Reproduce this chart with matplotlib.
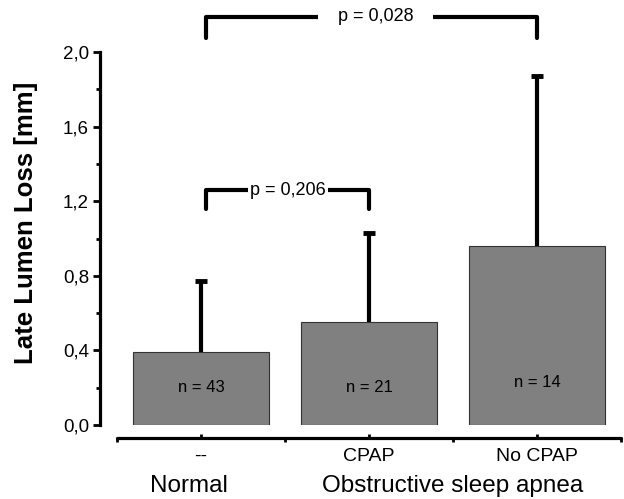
import matplotlib
matplotlib.use("Agg")
import matplotlib.pyplot as plt
import numpy as np
from matplotlib.ticker import FixedLocator, FuncFormatter
from matplotlib.transforms import blended_transform_factory

groups = ["--", "CPAP", "No CPAP"]
means = [0.39, 0.55, 0.96]
sds = [0.38, 0.48, 0.91]
n_labels = ["n = 43", "n = 21", "n = 14"]
n_label_y = [0.20, 0.20, 0.23]
group_titles = ["Normal", "Obstructive sleep apnea"]
comparisons = [(0, 1, "p = 0,206", 1.26, 1.16), (0, 2, "p = 0,028", 2.19, 2.075)]

plt.rcParams['font.family'] = ['Liberation Sans', 'DejaVu Sans']

fig = plt.figure(figsize=(6.24, 4.99), dpi=100)
ax = fig.add_axes([100/624, 74/499, 521/624, 373/499])

x = np.arange(len(groups))
ax.bar(x, means, width=0.81, color="#808080", edgecolor="#333333", linewidth=0.8, zorder=2)
upper = np.array(means) + np.array(sds)
ax.vlines(x, means, upper, color="black", linewidth=3, zorder=3)
ax.plot(x, upper, linestyle="none", marker="_", markersize=9, markeredgewidth=3.5,
        color="black", zorder=3)

for xi, lab, ly in zip(x, n_labels, n_label_y):
    ax.text(xi, ly, lab, ha="center", va="center", fontsize=12)

for a, b, lab, yh, ye in comparisons:
    ax.text((a + b) / 2 + 0.02 * (b - a), yh, lab, ha="center", va="center", fontsize=13,
            bbox=dict(facecolor="white", edgecolor="none", pad=14 if b - a > 1 else 1.5),
            zorder=5, clip_on=False)
    ax.plot([a + 0.03, a + 0.03, b, b], [ye, yh, yh, ye], color="black", linewidth=3,
            solid_capstyle="round", solid_joinstyle="round", clip_on=False, zorder=4)

ax.set_xlim(-0.5 - 17/168, 2.5)
ax.set_ylim(0, 2.0)

for s in ["top", "right"]:
    ax.spines[s].set_visible(False)
ax.spines["left"].set_linewidth(2.3)
ax.spines["left"].set_bounds(0, 2.0)
ax.spines["bottom"].set_linewidth(2.3)
ax.spines["bottom"].set_position(("outward", 9.5))
ax.spines["bottom"].set_bounds(-0.5, 2.5)
ax.spines["bottom"].set_capstyle("round")

ax.yaxis.set_major_locator(FixedLocator([0, 0.4, 0.8, 1.2, 1.6, 2.0]))
ax.yaxis.set_minor_locator(FixedLocator([0.2, 0.6, 1.0, 1.4, 1.8]))
ax.yaxis.set_major_formatter(FuncFormatter(lambda v, p: f"{v:.1f}".replace(".", ",")))
ax.tick_params(axis="y", which="major", direction="out", length=5, width=2, labelsize=13.5, pad=3)
ax.tick_params(axis="y", which="minor", direction="out", length=3, width=2)

ax.xaxis.set_major_locator(FixedLocator([-0.5, 0.5, 1.5, 2.5]))
ax.xaxis.set_minor_locator(FixedLocator(list(x)))
ax.xaxis.set_major_formatter(FuncFormatter(lambda v, p: ""))
ax.xaxis.set_minor_formatter(FuncFormatter(lambda v, p: groups[int(round(v))]))
ax.tick_params(axis="x", which="major", direction="out", length=3, width=2)
ax.tick_params(axis="x", which="minor", direction="in", length=3, width=2, labelsize=14, pad=7)

ax.set_ylabel("Late Lumen Loss [mm]", fontsize=18.5, fontweight="bold")
ax.yaxis.set_label_coords(-62/521, 1 - (223 - 52) / 373)

trans = blended_transform_factory(ax.transData, fig.transFigure)
ax.text(-0.07, 13/499, group_titles[0], transform=trans, ha="center", va="center", fontsize=17.5)
ax.text(1.5, 13/499, group_titles[1], transform=trans, ha="center", va="center", fontsize=17.5)

fig.savefig("out.png", dpi=100)
